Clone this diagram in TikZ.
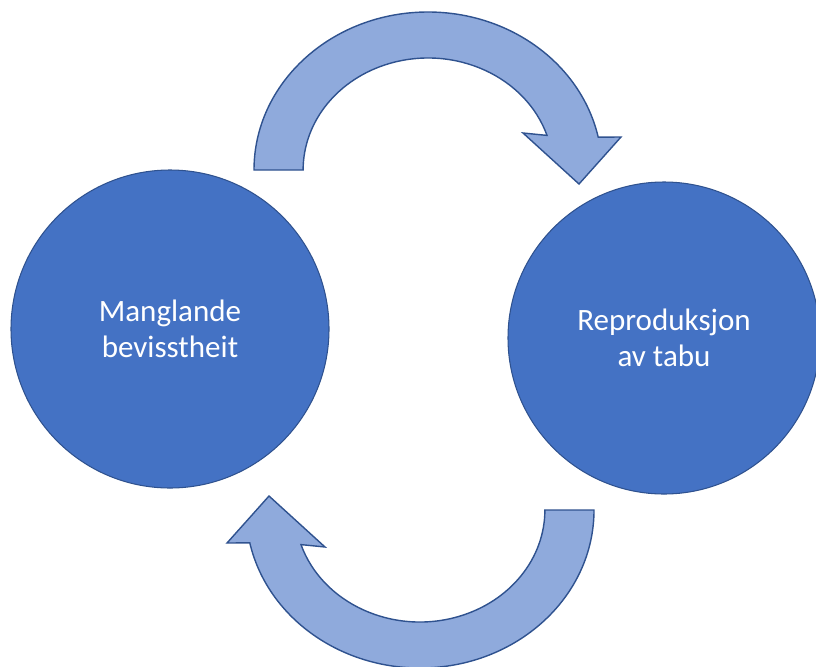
\documentclass[tikz,border=0pt]{standalone}
\usepackage{fontspec}
\setmainfont{Carlito}
\usepackage{tikz}
\usetikzlibrary{positioning}

\definecolor{circfill}{HTML}{4472C4}
\definecolor{circline}{HTML}{2F528F}
\definecolor{arrowfill}{HTML}{8FAADC}

\begin{document}
\begin{tikzpicture}[x=0.03cm, y=-0.03cm,
    phase/.style={circle, fill=circfill, draw=circline, line width=0.9pt,
      text=white, align=center, inner sep=0pt,
      font=\fontsize{26.5}{30.5}\selectfont},
    cyclearrow/.style={fill=arrowfill, draw=circline, line width=1.2pt,
      line join=miter}]

    \useasboundingbox (0,0) rectangle (816,666);

    % -------------------------------------------------------
    % 1. The two phases
    % -------------------------------------------------------
    \node[phase, minimum size=318*0.03cm] (mangel) at (170,329)
      {Manglande\\bevisstheit};
    \node[phase, minimum size=312*0.03cm] (repro) at (664,338)
      {Reproduksjon\\av tabu};

    % -------------------------------------------------------
    % 2. Curved block arrows (second one turned half round)
    % -------------------------------------------------------
    \def\bentpath{
      (254,170) arc[start angle=180, end angle=348, x radius=174, y radius=158]
      -- (621,137) -- (579,184) -- (523,133) -- (547,135.4)
      arc[start angle=342, end angle=180, x radius=125, y radius=112]
      -- cycle}

    % from Manglande bevisstheit to Reproduksjon av tabu
    \draw[cyclearrow] \bentpath;

    % back again
    \begin{scope}[rotate around={180:(424,340)}]
      \draw[cyclearrow] \bentpath;
    \end{scope}
\end{tikzpicture}
\end{document}
